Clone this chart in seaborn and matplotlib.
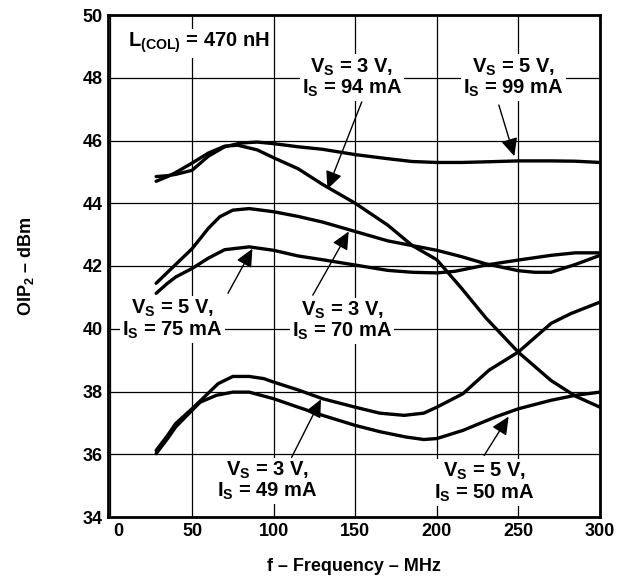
import matplotlib
matplotlib.use("Agg")
import matplotlib.pyplot as plt
import matplotlib.transforms as mtransforms
import seaborn as sns
import pandas as pd

# Frequency (MHz) and OIP2 (dBm) per curve
freq_v5_99 = [28, 35, 40, 50, 60, 70, 80, 90, 100, 115, 130, 150, 170, 185, 200, 215, 230, 250, 270, 285, 300]
oip2_v5_99 = [44.85, 44.88, 44.92, 45.05, 45.5, 45.8, 45.92, 45.95, 45.9, 45.8, 45.72, 45.55, 45.42, 45.33, 45.3, 45.3, 45.32, 45.35, 45.35, 45.34, 45.3]

freq_v3_94 = [28, 35, 40, 50, 60, 70, 78, 90, 100, 115, 130, 150, 170, 185, 200, 215, 230, 250, 270, 285, 300]
oip2_v3_94 = [44.7, 44.85, 44.98, 45.28, 45.6, 45.82, 45.85, 45.7, 45.45, 45.1, 44.6, 44.0, 43.3, 42.65, 42.2, 41.3, 40.35, 39.25, 38.35, 37.85, 37.5]

freq_v3_70 = [28, 35, 40, 50, 60, 67, 75, 85, 100, 115, 130, 150, 170, 185, 200, 215, 230, 250, 260, 270, 285, 300]
oip2_v3_70 = [41.45, 41.8, 42.05, 42.55, 43.2, 43.57, 43.78, 43.83, 43.73, 43.58, 43.4, 43.1, 42.8, 42.65, 42.5, 42.3, 42.07, 41.85, 41.8, 41.8, 42.05, 42.34]

freq_v5_75 = [28, 35, 40, 50, 60, 70, 85, 100, 115, 130, 150, 170, 185, 200, 211, 230, 250, 270, 285, 300]
oip2_v5_75 = [41.13, 41.45, 41.65, 41.92, 42.25, 42.52, 42.61, 42.5, 42.32, 42.2, 42.03, 41.86, 41.8, 41.78, 41.83, 42.03, 42.19, 42.34, 42.42, 42.42]

freq_v3_49 = [28, 35, 40, 50, 60, 66, 75, 85, 94, 100, 115, 130, 150, 165, 180, 192, 200, 216, 232, 250, 270, 282, 300]
oip2_v3_49 = [36.12, 36.6, 36.98, 37.45, 37.95, 38.25, 38.48, 38.48, 38.41, 38.3, 38.05, 37.77, 37.5, 37.31, 37.24, 37.31, 37.5, 37.93, 38.68, 39.26, 40.17, 40.48, 40.85]

freq_v5_50 = [28, 35, 40, 50, 55, 65, 75, 85, 100, 115, 130, 150, 165, 181, 192, 200, 216, 236, 250, 270, 285, 300]
oip2_v5_50 = [36.02, 36.5, 36.87, 37.4, 37.66, 37.88, 37.98, 37.98, 37.77, 37.5, 37.24, 36.92, 36.72, 36.55, 36.47, 36.5, 36.76, 37.19, 37.45, 37.72, 37.88, 37.98]

curve_names = ["VS=5V IS=99mA", "VS=3V IS=94mA", "VS=3V IS=70mA",
               "VS=5V IS=75mA", "VS=3V IS=49mA", "VS=5V IS=50mA"]

x_ticks = [0, 50, 100, 150, 200, 250, 300]
y_ticks = [34, 36, 38, 40, 42, 44, 46, 48, 50]

# Curve labels: text, text position, arrow tail, arrow tip
label_texts = [
    r"V$_\mathbf{S}$ = 3 V," + "\n" + r"I$_\mathbf{S}$ = 94 mA",
    r"V$_\mathbf{S}$ = 5 V," + "\n" + r"I$_\mathbf{S}$ = 99 mA",
    r"V$_\mathbf{S}$ = 5 V," + "\n" + r"I$_\mathbf{S}$ = 75 mA",
    r"V$_\mathbf{S}$ = 3 V," + "\n" + r"I$_\mathbf{S}$ = 70 mA",
    r"V$_\mathbf{S}$ = 3 V," + "\n" + r"I$_\mathbf{S}$ = 49 mA",
    r"V$_\mathbf{S}$ = 5 V," + "\n" + r"I$_\mathbf{S}$ = 50 mA",
]
label_pos = [(148, 48.0), (247, 48.0), (38, 40.3), (142, 40.25), (96, 35.15), (229, 35.1)]
arrow_tail = [(154, 47.23), (238, 47.13), (72, 41.13), (124, 41.07), (111, 35.9), (229, 35.96)]
arrow_tip = [(133, 44.45), (247.5, 45.5), (87, 42.55), (146, 43.1), (129, 37.75), (244, 37.2)]

sns.set_theme(style="white")
plt.rcParams["font.family"] = ["Liberation Sans", "DejaVu Sans"]
plt.rcParams["font.weight"] = "bold"
plt.rcParams["text.color"] = "black"
plt.rcParams["axes.labelcolor"] = "black"
plt.rcParams["xtick.color"] = "black"
plt.rcParams["ytick.color"] = "black"
plt.rcParams["mathtext.fontset"] = "custom"
plt.rcParams["mathtext.bf"] = "Liberation Sans:bold"
plt.rcParams["mathtext.rm"] = "Liberation Sans:bold"
plt.rcParams["mathtext.default"] = "bf"

fig = plt.figure(figsize=(6.23, 5.78), dpi=100)
ax = fig.add_axes([108 / 623, 1 - 517 / 578, 492 / 623, 502 / 578])

series = [(freq_v5_99, oip2_v5_99), (freq_v3_94, oip2_v3_94), (freq_v3_70, oip2_v3_70),
          (freq_v5_75, oip2_v5_75), (freq_v3_49, oip2_v3_49), (freq_v5_50, oip2_v5_50)]
frames = []
for name, (f, o) in zip(curve_names, series):
    frames.append(pd.DataFrame({"freq": f, "oip2": o, "curve": name}))
df = pd.concat(frames, ignore_index=True)

sns.lineplot(data=df, x="freq", y="oip2", hue="curve", units="curve", estimator=None,
             palette=["black"] * len(curve_names), linewidth=2.4, legend=False,
             sort=True, ax=ax, zorder=4)

ax.set_xlim(-1.5, 300)
ax.set_ylim(34, 50)
ax.set_xticks(x_ticks)
ax.set_xticklabels([str(v) for v in x_ticks], fontsize=13, fontweight="bold")
ax.set_yticks(y_ticks)
ax.set_yticklabels([str(v) for v in y_ticks], fontsize=13, fontweight="bold")
ax.tick_params(length=0, pad=4, colors="black")
ax.grid(True, color="black", linewidth=0.9)
ax.set_axisbelow(True)
for sp in ax.spines.values():
    sp.set_linewidth(2)
    sp.set_color("black")

# shift the "0" label a bit right like in the reference
offset = mtransforms.ScaledTranslation(8 / 100, 0, fig.dpi_scale_trans)
first = ax.get_xticklabels()[0]
first.set_transform(first.get_transform() + offset)

ax.set_xlabel("f \u2013 Frequency \u2013 MHz", fontsize=13, fontweight="bold", labelpad=13,
              color="black")
ax.set_ylabel("OIP$_\\mathbf{2}$ \u2013 dBm", fontsize=13, fontweight="bold", labelpad=33,
              color="black")

box = dict(facecolor="white", edgecolor="none", pad=1.5)
ax.text(11, 49.1, r"L$_\mathbf{(COL)}$ = 470 nH", fontsize=14.5, fontweight="bold",
        ha="left", va="center", bbox=box, zorder=3, color="black")

for txt, pos, tail, tip in zip(label_texts, label_pos, arrow_tail, arrow_tip):
    ax.text(pos[0], pos[1], txt, fontsize=14.5, fontweight="bold", ha="center",
            va="center", linespacing=1.0, bbox=box, zorder=3, color="black")
    ax.annotate("", xy=tip, xytext=tail,
                arrowprops=dict(arrowstyle="-|>,head_length=0.9,head_width=0.42",
                                color="black", lw=1.0, shrinkA=0, shrinkB=0),
                zorder=5)

fig.savefig("out.png", dpi=100)
